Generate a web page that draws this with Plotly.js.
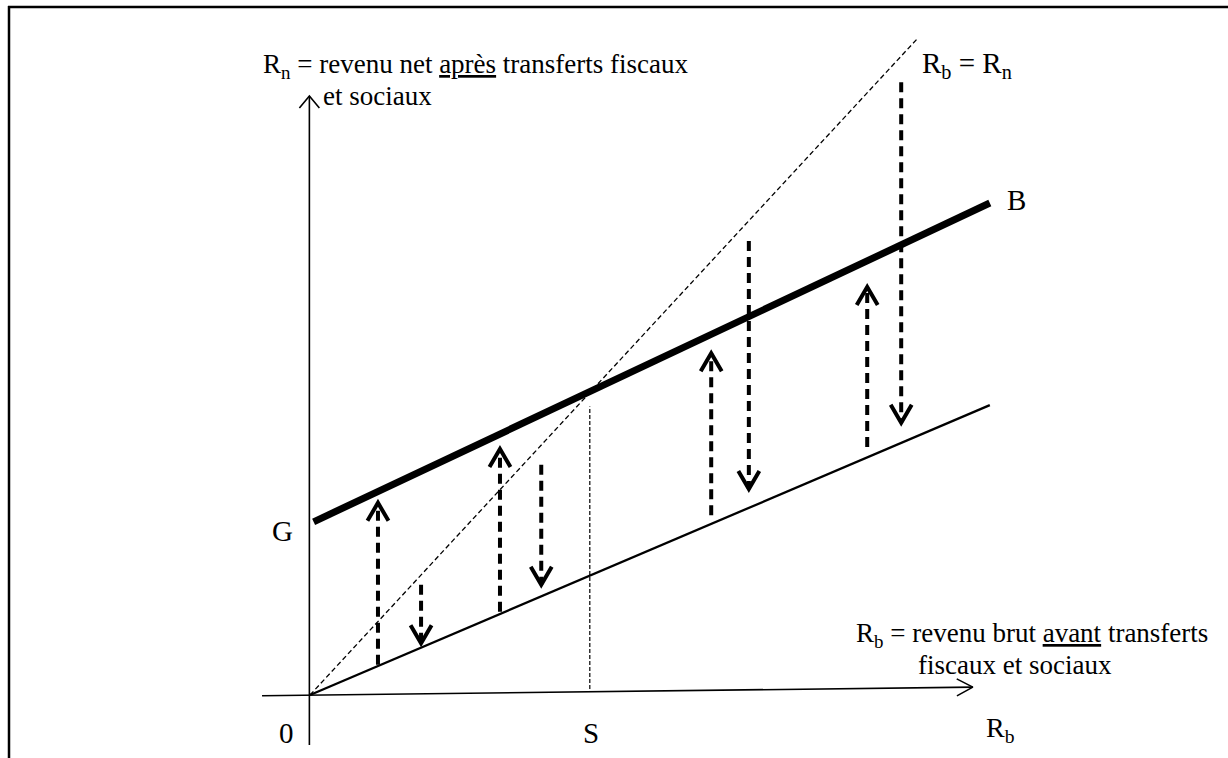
<!DOCTYPE html>
<html>
<head>
<meta charset="utf-8">
<script src="https://cdn.plot.ly/plotly-3.0.1.min.js"></script>
<style>html,body{margin:0;padding:0;background:#fff;}#chart{width:1228px;height:758px;}</style>
</head>
<body>
<div id="chart"></div>
<script>
// ---- Diagram values (x = Rb, gross income ; y = Rn, net income) ----
const hAxisX = [-7.9, 109.2];
const hAxisY = [-0.1, 1.2];
const vAxisX = [-0.1, -0.1];
const vAxisY = [-7.6, 91.3];
const lowerLineX = [0, 112.0];
const lowerLineY = [0, 44.2];
const bLineX = [0.6, 112.0];
const bLineY = [26.4, 75.0];
const diagX = [0, 100];
const diagY = [0, 100];
const sLineX = [46.1, 46.1];
const sLineY = [0.9, 44.0];
const arrowX = [11.2, 18.3, 31.3, 38.1, 66.1, 72.3, 91.8, 97.4];
const arrowFrom = [4.6, 16.8, 12.7, 35.1, 27.4, 69.2, 37.8, 93.4];
const arrowTo = [29.3, 7.9, 37.5, 16.8, 52.1, 31.4, 62.2, 41.5];

const X_RANGE = [-51.07, 151.24];
const Y_RANGE = [-9.60, 105.95];
const W = 1228, H = 758;
const KX = W / (X_RANGE[1] - X_RANGE[0]);
const KY = H / (Y_RANGE[1] - Y_RANGE[0]);

function chevron(x0, y0, x1, y1, len, half) {
  const dx = (x1 - x0) * KX, dy = (y1 - y0) * KY;
  const n = Math.hypot(dx, dy);
  const ux = dx / n, uy = dy / n;
  const bx = -ux * len, by = -uy * len;
  const qx = -uy * half, qy = ux * half;
  return {
    x: [x1 + (bx + qx) / KX, x1, x1 + (bx - qx) / KX, null],
    y: [y1 + (by + qy) / KY, y1, y1 + (by - qy) / KY, null]
  };
}

const FONT = 'Liberation Serif, Times New Roman, serif';
const traces = [];
function line(x, y, width, dash) {
  traces.push({type: 'scatter', mode: 'lines', x: x, y: y, hoverinfo: 'skip', showlegend: false,
    line: {color: '#000', width: width, dash: dash || 'solid'}});
}

// axes
line(hAxisX, hAxisY, 1.6);
line(vAxisX, vAxisY, 1.6);
const hHead = chevron(hAxisX[0], hAxisY[0], hAxisX[1], hAxisY[1], 16, 8.5);
const vHead = chevron(vAxisX[0], vAxisY[0], vAxisX[1], vAxisY[1], 12, 10);
line(hHead.x, hHead.y, 1.6);
line(vHead.x, vHead.y, 1.6);

// reference lines
line(diagX, diagY, 1.3, '5px,3px');
line(sLineX, sLineY, 1.2, '4px,2px');
line(lowerLineX, lowerLineY, 2.3);
line(bLineX, bLineY, 7);

// dashed transfer arrows
const shaftX = [], shaftY = [], headX = [], headY = [];
for (let i = 0; i < arrowX.length; i++) {
  shaftX.push(arrowX[i], arrowX[i], null);
  shaftY.push(arrowFrom[i], arrowTo[i], null);
  const h = chevron(arrowX[i], arrowFrom[i], arrowX[i], arrowTo[i], 18, 10.5);
  headX.push(...h.x); headY.push(...h.y);
}
line(shaftX, shaftY, 4, '10px,6px');
line(headX, headY, 4);

function label(text, x, y, size, xanchor) {
  return {text: text, x: x, y: y, xref: 'x', yref: 'y', showarrow: false,
    xanchor: xanchor || 'left', yanchor: 'middle', align: 'left',
    font: {family: FONT, size: size, color: '#000'}};
}

const annotations = [
  label('R<sub>n</sub> = revenu net <u>après</u> transferts fiscaux', -8.07, 95.9, 27),
  label('et sociaux', 1.8, 91.3, 27),
  label('R<sub>b</sub> = R<sub>n</sub>', 100.5, 96.0, 29),
  label('B', 114.5, 75.5, 29),
  label('G', -6.6, 25.0, 29),
  label('0', -5.4, -5.8, 29),
  label('S', 46.3, -5.8, 29, 'center'),
  label('R<sub>b</sub>', 111.0, -5.3, 28),
  label('R<sub>b</sub> = revenu brut <u>avant</u> transferts', 89.6, 9.1, 27),
  label('fiscaux et sociaux', 99.8, 4.6, 27)
];

const layout = {
  width: W, height: H, autosize: false,
  margin: {l: 0, r: 0, t: 0, b: 0, pad: 0},
  paper_bgcolor: '#fff', plot_bgcolor: '#fff',
  showlegend: false,
  xaxis: {range: X_RANGE, visible: false, fixedrange: true},
  yaxis: {range: Y_RANGE, visible: false, fixedrange: true},
  annotations: annotations,
  shapes: [
    {type: 'line', xref: 'paper', yref: 'paper', x0: 8 / W, x1: 1, y0: 1 - 7 / H, y1: 1 - 7 / H,
      line: {color: '#000', width: 2.5}},
    {type: 'line', xref: 'paper', yref: 'paper', x0: 9 / W, x1: 9 / W, y0: 0, y1: 1 - 6 / H,
      line: {color: '#000', width: 2.5}}
  ]
};

Plotly.newPlot('chart', traces, layout, {staticPlot: true, displayModeBar: false});
</script>
</body>
</html>
